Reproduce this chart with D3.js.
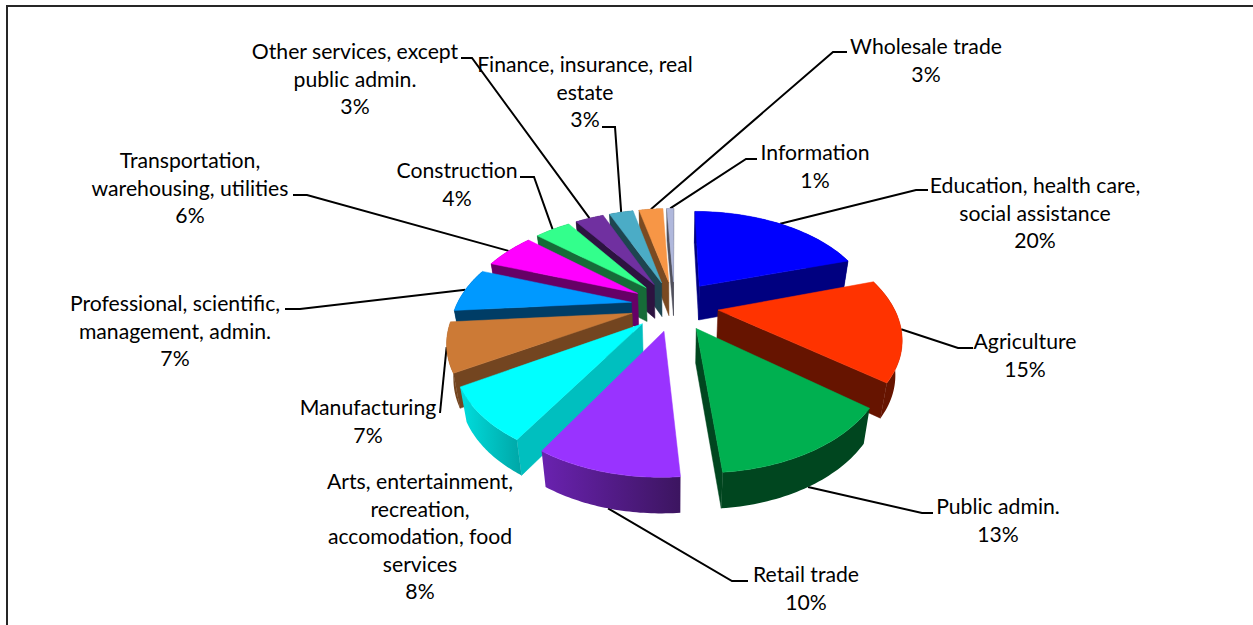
<!DOCTYPE html>
<html>
<head>
<meta charset="utf-8">
<script src="https://cdn.jsdelivr.net/npm/d3@7"></script>
<style>
    html, body {margin: 0; padding: 0; background: #fff; overflow: hidden;}
    svg {display: block;}
</style>
</head>
<body>
<div id="wrapper"></div>
<script>
const categories = [
    ["Education, health care,", "social assistance"],
    ["Agriculture"],
    ["Public admin."],
    ["Retail trade"],
    ["Arts, entertainment,", "recreation,", "accomodation, food", "services"],
    ["Manufacturing"],
    ["Professional, scientific,", "management, admin."],
    ["Transportation,", "warehousing, utilities"],
    ["Construction"],
    ["Other services, except", "public admin."],
    ["Finance, insurance, real", "estate"],
    ["Wholesale trade"],
    ["Information"],
]
// labels only show whole percents, the decimals are read from the slice edges
const shares = [20.2, 15.4, 13.1, 9.9, 7.8, 7.3, 6.8, 5.7, 4.1, 3.3, 2.8, 2.8, 0.8]

const topColors = ["#0000ff", "#ff3300", "#00b050", "#9933ff", "#00ffff", "#cc7a36", "#0099ff", "#ff00ff", "#33ff8c", "#7030a0", "#4bacc6", "#f79646", "#b0b8dc"]
const wallColors = ["#000080", "#661400", "#00461f", "#3d1466", "#00bfbf", "#734520", "#003d66", "#660066", "#166b38", "#2d1340", "#1e4550", "#7a4a22", "#50505c"]
const rimLeft = ["#000080", "#661400", "#00461f", "#6a22b0", "#00dede", "#734520", "#003d66", "#660066", "#166b38", "#2d1340", "#1e4550", "#7a4a22", "#50505c"]
const rimRight = ["#000080", "#661400", "#00461f", "#3c1560", "#00a6a6", "#734520", "#003d66", "#660066", "#166b38", "#2d1340", "#1e4550", "#7a4a22", "#50505c"]

// label centre x and first line centre y, same order as categories
const labelX = [1035, 1025, 998, 806, 420, 368, 175, 190, 457, 355, 585, 926, 815]
const labelY = [185, 341, 506, 574, 481, 407, 303, 160, 170, 51, 64, 46, 152]
// leader stub beside each label: [text side x, elbow x, y], null = no leader
const stubs = [
    [928, 916, 190], [973, 958, 348], [933, 922, 513], [748, 732, 581], null,
    [440, 440, 413], [285, 300, 309], [293, 307, 195], [520, 534, 177],
    [461, 472, 58], [602, 615, 127], [847, 833, 52], [757, 746, 159],
]

const dimensions = {width: 1253, height: 625}
// perspective of the tilted disc
const view = {
    cx: 674.5, cy: 305.5,
    explode: 0.25,           // in units of the radius
    a: 175, b: 99.5,         // horizontal and vertical radius before perspective
    k: 0.225,                // perspective strength
    depth: 34,
    floorScale: 0.97,
}

function project(d, angle, r, isFloor) {
    const X = r * Math.sin(angle) + view.explode * Math.sin(d.midAngle)
    const Y = r * Math.cos(angle) + view.explode * Math.cos(d.midAngle)
    const s = 1 / (1 + view.k * Y)
    const q = isFloor ? view.floorScale : 1
    const drop = isFloor ? view.depth * (1 - 0.05 * Y) : 0
    return [view.cx + view.a * X * s * q, view.cy - view.b * Y * s + drop]
}

function arcPoints(d, isFloor) {
    const n = 40
    const angleScale = d3.scaleLinear().domain([0, n]).range([d.startAngle, d.endAngle])
    return d3.range(n + 1).map(i => project(d, angleScale(i), 1, isFloor))
}

// a radial wall shows only if the slice lies above its edge on screen
function wallVisible(d, angle) {
    const apex = project(d, 0, 0, false)
    const p = project(d, angle, 1, false)
    const m = project(d, d.midAngle, 1, false)
    const lineY = apex[1] + (p[1] - apex[1]) * (m[0] - apex[0]) / (p[0] - apex[0])
    return m[1] < lineY
}

function createSlices() {
    const pie = d3.pie().sort(null)
    return pie(shares).map((d, i) => ({...d, i, midAngle: (d.startAngle + d.endAngle) / 2}))
}

function drawCanvas() {
    return d3.select("#wrapper").append("svg")
        .attr("width", dimensions.width)
        .attr("height", dimensions.height)
}

function drawBorder(svg) {
    svg.append("path")
        .attr("d", d3.line()([[7, dimensions.height], [7, 6], [dimensions.width, 6]]))
        .attr("fill", "none")
        .attr("stroke", "#262626")
        .attr("stroke-width", 2)
}

function drawLeaders(svg, slices) {
    const line = d3.line()
    svg.append("g").selectAll("path")
        .data(slices.filter(d => stubs[d.i]))
        .join("path")
        .attr("d", d => {
            const [x0, x1, y] = stubs[d.i]
            // near slices hook onto the bottom of the rim
            const end = project(d, d.midAngle, 1, Math.cos(d.midAngle) < -0.7)
            return line([[x0, y], [x1, y], end])
        })
        .attr("fill", "none")
        .attr("stroke", "#000")
        .attr("stroke-width", 2)
}

function drawPie(svg, slices) {
    const line = d3.line()
    const defs = svg.append("defs")
    const grads = defs.selectAll("linearGradient").data(slices).join("linearGradient")
        .attr("id", d => `rim${d.i}`)
    grads.append("stop").attr("offset", 0).attr("stop-color", d => rimLeft[d.i])
    grads.append("stop").attr("offset", 1).attr("stop-color", d => rimRight[d.i])

    const apexY = d => project(d, 0, 0, false)[1]
    const order = slices.slice().sort((a, b) => d3.ascending(apexY(a), apexY(b)))
    const groups = svg.append("g").selectAll("g").data(order).join("g")

    groups.each(function (d) {
        const g = d3.select(this)
        const color = wallColors[d.i]
        const apex = project(d, 0, 0, false)
        const floorApex = project(d, 0, 0, true)
        const topArc = arcPoints(d, false)
        const floorArc = arcPoints(d, true)
        ;[[d.startAngle, topArc[0], floorArc[0]], [d.endAngle, topArc[40], floorArc[40]]]
            .filter(w => wallVisible(d, w[0]))
            .forEach(w => {
                g.append("path")
                    .attr("d", line([apex, w[1], w[2], floorApex]) + "Z")
                    .attr("fill", color)
                    .attr("stroke", color)
                    .attr("stroke-width", 0.5)
            })
        g.append("path")
            .attr("d", line(topArc.concat(floorArc.slice().reverse())) + "Z")
            .attr("fill", `url(#rim${d.i})`)
        g.append("path")
            .attr("d", line([apex, ...topArc]) + "Z")
            .attr("fill", topColors[d.i])
            .attr("stroke", topColors[d.i])
            .attr("stroke-width", 0.5)
    })
}

function drawLabels(svg) {
    const lineHeight = 27.6
    const labels = svg.append("g").selectAll("text")
        .data(categories)
        .join("text")
        .attr("font-family", "Lato, 'Open Sans', sans-serif")
        .attr("font-size", "21.2px")
        .attr("fill", "#000")
        .attr("text-anchor", "middle")
    labels.each(function (lines, i) {
        const rows = lines.concat(`${Math.round(shares[i])}%`)
        d3.select(this).selectAll("tspan").data(rows).join("tspan")
            .attr("x", labelX[i])
            .attr("y", (d, j) => labelY[i] + j * lineHeight)
            .attr("dy", "0.38em")
            .text(d => d)
    })
}

function drawChart() {
    const svg = drawCanvas()
    const slices = createSlices()
    drawBorder(svg)
    drawLeaders(svg, slices)
    drawPie(svg, slices)
    drawLabels(svg)
}

drawChart()
</script>
</body>
</html>
